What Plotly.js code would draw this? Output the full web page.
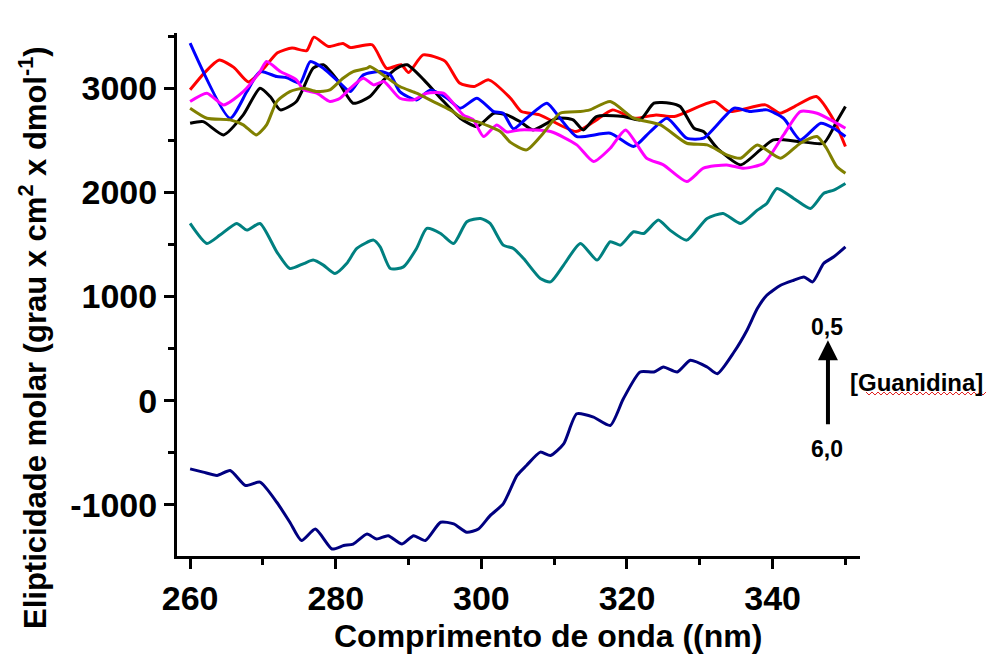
<!DOCTYPE html>
<html>
<head>
<meta charset="utf-8">
<script src="https://cdn.plot.ly/plotly-3.0.1.min.js"></script>
<style>html,body{margin:0;padding:0;background:#fff;}#chart{width:1006px;height:657px;}</style>
</head>
<body>
<div id="chart"></div>
<script>
// Wavelength (nm) and molar ellipticity values
const redX = [260,262,264,266,268,270,272,274,276,277,279,281,282,285,287,289,290,292,295,297,299,301,304,305.5,308,313,315.5,318,321,324,326.5,332,334,339,341,343,346,348.5,350];
const redY = [2985,3150,3270,3200,3060,3180,3340,3385,3360,3490,3400,3430,3390,3417,3190,3225,3150,3320,3260,3050,3016,3080,2904,2776,2744,2584,2680,2792,2712,2744,2728,2872,2776,2840,2760,2824,2920,2680,2440];

const blackX = [260,261.8,264.6,267.3,269.6,271,272.4,274.6,276.9,278.3,280.2,282.4,284.7,286.6,288.4,289.8,292.1,294.4,297.1,299.4,301.7,303.5,305.3,307.1,310.4,312.6,314,315.8,319.5,321.8,323.7,325.9,327.3,329.2,330.5,332.4,335.6,338.3,340.1,343.8,347,348.8,350];
const blackY = [2663,2679,2552,2744,3000,2920,2792,2872,3192,3225,3080,2856,2920,3080,3192,3225,3080,2904,2712,2632,2760,2744,2680,2600,2712,2696,2600,2728,2728,2696,2856,2856,2824,2616,2584,2424,2264,2408,2504,2488,2472,2680,2824];

const blueX = [260,265.5,267.8,269.6,271.9,273.3,275.1,276.5,278.3,280.6,282,283.8,286.1,287.5,288.8,291.1,293,295.3,297.1,299.4,301.7,303,304.4,306.2,309,310.8,313.1,317.7,320.9,323.2,325.5,328.2,330.5,334.7,336.9,339.2,341.5,343.8,346.6,348.4,350];
const blueY = [3433,2712,2968,3160,3112,3100,3048,3256,3192,3048,2968,3128,3160,3128,2968,2888,2984,2904,2808,2904,2776,2760,2610,2712,2856,2712,2536,2568,2440,2584,2712,2520,2520,2808,2776,2792,2712,2504,2664,2616,2536];

const magentaX = [260,262.3,264.6,267.3,269.6,270.5,272.4,274.6,275.6,277.4,279.2,280.6,282,283.8,285.2,286.6,288.8,290.7,292.5,294.8,297.5,298.9,300.3,302.1,303.5,305.3,309.5,313.1,315.4,317.7,319.8,322.7,325,328.2,330.5,333.7,336,338.8,341.5,343.8,346.1,348.4,350];
const magentaY = [2872,2952,2840,2968,3160,3256,3160,3080,2984,2952,2872,2904,3000,3096,3032,3064,2904,2888,2952,2952,2744,2696,2536,2648,2580,2600,2584,2456,2296,2424,2600,2328,2264,2104,2232,2264,2232,2280,2552,2776,2760,2680,2616];

const oliveX = [260,262.3,265.5,267.3,269.1,270.5,271.9,273.7,275.6,277.4,279.2,281,282.4,284.3,284.7,286.5,288.8,291.1,293.4,295.7,297.5,299.4,302.6,304,306.2,308.5,310.8,313.6,314.9,317.7,320.9,324.6,328.2,331,333.7,335.6,337.9,341.1,343.8,346.1,347.4,348.8,350];
const oliveY = [2808,2712,2696,2648,2552,2648,2872,2968,3000,2968,2984,3096,3160,3192,3208,3128,3016,2952,2872,2792,2712,2680,2584,2480,2408,2568,2760,2776,2792,2872,2712,2648,2472,2456,2360,2328,2456,2328,2472,2536,2424,2248,2184];

const tealX = [260,262.3,264.1,266.4,267.8,269.6,271.9,273.7,275.6,276.9,278.3,279.9,281.5,282.9,285.2,286.1,287.5,289.3,291.1,292.5,294.4,296.2,298,299.9,301.2,303,304.4,305.8,308.1,309.5,311.3,313.6,315.9,317.7,319.1,320.9,322.3,324.3,325.9,328.2,331,333.2,335.6,337.9,339.2,340.6,342.9,345.2,347,348.4,350];
const tealY = [1702,1510,1590,1702,1638,1702,1430,1269,1317,1350,1302,1221,1317,1462,1542,1478,1269,1285,1462,1654,1606,1510,1718,1750,1702,1494,1462,1365,1173,1141,1302,1510,1350,1526,1494,1622,1606,1734,1638,1542,1750,1798,1702,1830,1894,2038,1942,1846,1990,2022,2086];

const navyX = [260,261.8,263.7,265.5,267.6,269.6,271.9,273.7,275.3,277.2,279.5,281.1,282.4,284.3,285.6,287.2,289.1,290.7,292.3,294.4,296.2,298,299.6,301.2,303,304.9,306.2,308.1,309.5,311.3,313.1,315.4,317.7,319.5,321.8,323.7,325,326.9,328.7,331,332.4,334.7,336.5,337.9,339.2,341.1,342.9,344.3,345.5,347,348.4,350];
const navyY = [-654,-685,-717,-669,-813,-781,-974,-1166,-1342,-1231,-1423,-1390,-1375,-1279,-1327,-1295,-1375,-1295,-1342,-1166,-1182,-1262,-1231,-1102,-990,-717,-621,-493,-525,-414,-125,-157,-237,19,276,276,324,276,388,324,260,468,680,885,1013,1109,1157,1189,1141,1317,1382,1478];

const seriesNames = ['0,5 M','1,0 M','2,0 M','3,0 M','4,0 M','5,0 M','6,0 M'];
const seriesColors = ['#ff0000','#000000','#0000ff','#ff00ff','#808000','#008080','#000080'];

const xTicks = [260, 280, 300, 320, 340];
const yTicks = [-1000, 0, 1000, 2000, 3000];
const yTickText = ['-1000', '0', '1000', '2000', '3000'];
const xTitle = 'Comprimento de onda ((nm)';
const yTitle = 'Elipticidade molar (grau x cm<sup>2</sup> x dmol<sup>-1</sup>)';

const allX = [redX, blackX, blueX, magentaX, oliveX, tealX, navyX];
const allY = [redY, blackY, blueY, magentaY, oliveY, tealY, navyY];

const traces = allX.map((xs, i) => ({
  type: 'scatter', mode: 'lines', x: xs, y: allY[i], name: seriesNames[i],
  line: {color: seriesColors[i], width: 3, shape: 'spline', smoothing: 0.6},
  showlegend: false, hoverinfo: 'skip'
}));

const fontFam = '"Liberation Sans", Arial, sans-serif';

// plot area in pixels (for placing text decorations)
const W = 1006, H = 657, mL = 177, mR = 146, mT = 33, mB = 101;
const pw = W - mL - mR, ph = H - mT - mB;
const px2paperX = p => (p - mL) / pw;
const px2paperY = p => (H - mB - p) / ph;

// red wavy spell-check underline under "Guanidina"
let wavy = '';
for (let p = 866, k = 0; p <= 988; p += 3, k++) {
  const yy = 393 + (k % 2 ? 2 : -1);
  wavy += (k === 0 ? 'M ' : ' L ') + px2paperX(p).toFixed(4) + ',' + px2paperY(yy).toFixed(4);
}

const layout = {
  width: W, height: H,
  margin: {l: mL, r: mR, t: mT, b: mB},
  paper_bgcolor: '#fff', plot_bgcolor: '#fff',
  showlegend: false,
  xaxis: {
    range: [258.2, 352], showgrid: false, zeroline: false,
    showline: true, linecolor: '#000', linewidth: 3, mirror: false,
    ticks: 'outside', ticklen: 10, tickwidth: 3, tickcolor: '#000',
    tickvals: xTicks,
    minor: {tickvals: [270, 290, 310, 330, 350], ticks: 'outside', ticklen: 6, tickwidth: 3, tickcolor: '#000'},
    tickfont: {family: fontFam, size: 34, color: '#000', weight: 'bold'}
  },
  yaxis: {
    range: [-1490, 3530], showgrid: false, zeroline: false,
    showline: true, linecolor: '#000', linewidth: 3, mirror: false,
    ticks: 'outside', ticklen: 10, tickwidth: 3, tickcolor: '#000',
    tickvals: yTicks, ticktext: yTickText,
    minor: {tickvals: [-1500, -500, 500, 1500, 2500, 3500], ticks: 'outside', ticklen: 6, tickwidth: 3, tickcolor: '#000'},
    tickfont: {family: fontFam, size: 34, color: '#000', weight: 'bold'}
  },
  shapes: [
    {type: 'path', xref: 'paper', yref: 'paper', path: wavy, line: {color: '#e02020', width: 1}}
  ],
  annotations: [
    {x: px2paperX(548), y: px2paperY(636), xref: 'paper', yref: 'paper', text: '<b>' + xTitle + '</b>', showarrow: false,
     xanchor: 'center', yanchor: 'middle', font: {family: fontFam, size: 32, color: '#000'}},
    {x: px2paperX(33), y: px2paperY(338), xref: 'paper', yref: 'paper', text: '<b>' + yTitle + '</b>', showarrow: false,
     textangle: -90, xanchor: 'center', yanchor: 'middle', font: {family: fontFam, size: 31, color: '#000'}},
    {x: 347.5, y: 710, xref: 'x', yref: 'y', text: '<b>0,5</b>', showarrow: false,
     font: {family: fontFam, size: 23, color: '#000'}},
    {x: 347.5, y: -460, xref: 'x', yref: 'y', text: '<b>6,0</b>', showarrow: false,
     font: {family: fontFam, size: 23, color: '#000'}},
    {x: 347.6, y: 580, ax: 347.6, ay: -240, xref: 'x', yref: 'y', axref: 'x', ayref: 'y',
     text: '', showarrow: true, arrowhead: 2, arrowsize: 1, arrowwidth: 4, arrowcolor: '#000'},
    {x: 350.4, y: 175, xref: 'x', yref: 'y', xanchor: 'left', text: '<b>[Guanidina]</b>', showarrow: false,
     font: {family: fontFam, size: 24, color: '#000'}}
  ]
};

Plotly.newPlot('chart', traces, layout, {displayModeBar: false, staticPlot: true});
</script>
</body>
</html>
